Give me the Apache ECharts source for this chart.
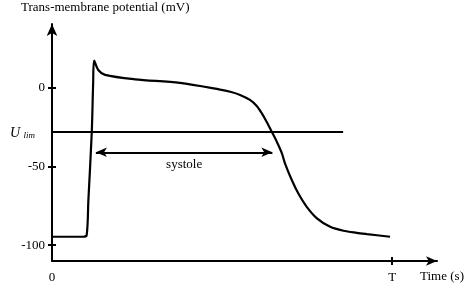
<!DOCTYPE html>
<html>
<head>
<meta charset="utf-8">
<script src="https://cdn.jsdelivr.net/npm/echarts@6/dist/echarts.min.js"></script>
<style>html,body{margin:0;padding:0;background:#fff}#c{width:474px;height:293px}</style>
</head>
<body>
<div id="c"></div>
<script>
// time as fraction of the period T
const timeT = [0, 0.092, 0.102, 0.107, 0.117, 0.121, 0.124, 0.136, 0.156, 0.244, 0.376, 0.494, 0.524, 0.553, 0.582, 0.602, 0.617, 0.631, 0.646, 0.661, 0.676, 0.685, 0.705, 0.724, 0.749, 0.779, 0.818, 0.857, 0.896, 0.926, 0.994];
// trans-membrane potential (mV)
const potential = [-94.6, -94.6, -93.5, -71.3, -27.9, 3.0, 17.1, 11.2, 8.1, 5.3, 3.0, -1.2, -2.6, -4.6, -7.8, -11.6, -16.3, -21.6, -27.9, -34.3, -41.7, -48.0, -58.6, -67.0, -75.6, -82.9, -88.3, -90.8, -92.1, -92.9, -94.6];
const yTicks = [-100, -50, 0];
const xLabels = [0, 1];
const xLabelText = ['0', 'T'];
const uLim = -28;
const uLimEnd = 0.856;
const systoleStart = 0.129, systoleEnd = 0.648, systoleLevel = -41;

const F = 'Liberation Serif';
const curve = timeT.map((t, i) => [t, potential[i]]);
const chart = echarts.init(document.getElementById('c'));
const yMin = -110, yMax = 40.4, xMax = 1.132;
chart.setOption({
  animation: false,
  title: {text: 'Trans-membrane potential (mV)', left: 21, top: 1, padding: 0,
    textStyle: {fontFamily: F, fontSize: 13, fontWeight: 'normal', color: '#000'}},
  grid: {left: 52, top: 24, right: 37, bottom: 32},
  xAxis: [{
    type: 'value', min: 0, max: xMax,
    name: 'Time (s)', nameLocation: 'end', nameGap: 5,
    nameTextStyle: {fontFamily: F, fontSize: 13, color: '#000', align: 'center', verticalAlign: 'top', padding: [9, 0, 0, 0]},
    axisLine: {onZero: false, lineStyle: {color: '#000', width: 2}, symbol: ['none', 'arrow'], symbolSize: [7, 11]},
    axisTick: {show: true, customValues: [1], length: 4, lineStyle: {color: '#000', width: 2}},
    axisLabel: {customValues: xLabels, formatter: v => xLabelText[xLabels.indexOf(v)], margin: 10,
      fontFamily: F, fontSize: 13, color: '#000'},
    splitLine: {show: false}
  }, {
    type: 'value', min: 0, max: xMax, position: 'bottom',
    axisLine: {show: false, onZero: false},
    axisTick: {show: true, inside: true, customValues: [1], length: 4, lineStyle: {color: '#000', width: 2}},
    axisLabel: {show: false}, splitLine: {show: false}
  }],
  yAxis: [{
    type: 'value', min: yMin, max: yMax,
    axisLine: {onZero: false, lineStyle: {color: '#000', width: 2}, symbol: ['none', 'arrow'], symbolSize: [8, 12]},
    axisTick: {show: true, customValues: yTicks, length: 4, lineStyle: {color: '#000', width: 2}},
    axisLabel: {customValues: yTicks, margin: 7, fontFamily: F, fontSize: 13, color: '#000'},
    splitLine: {show: false}
  }, {
    type: 'value', min: yMin, max: yMax, position: 'left',
    axisLine: {show: false, onZero: false},
    axisTick: {show: true, inside: true, customValues: yTicks, length: 4, lineStyle: {color: '#000', width: 2}},
    axisLabel: {show: false}, splitLine: {show: false}
  }],
  graphic: [{
    type: 'text', left: 10, top: 126,
    style: {
      text: '{u|U} {l|lim}',
      rich: {
        u: {fontFamily: F, fontStyle: 'italic', fontSize: 14, fill: '#000', verticalAlign: 'bottom', lineHeight: 14},
        l: {fontFamily: F, fontStyle: 'italic', fontSize: 9, fill: '#000', verticalAlign: 'bottom', lineHeight: 14}
      }
    }
  }],
  series: [{
    type: 'line', data: curve, showSymbol: false, smooth: 0.3,
    lineStyle: {color: '#000', width: 2.2}, silent: true,
    markLine: {
      silent: true, animation: false,
      data: [
        [{coord: [0, uLim], symbol: 'none', label: {show: false}, lineStyle: {color: '#000', width: 1.8, type: 'solid'}},
         {coord: [uLimEnd, uLim], symbol: 'none'}],
        [{coord: [systoleStart, systoleLevel], symbol: 'arrow', symbolSize: [7, 11],
          lineStyle: {color: '#000', width: 1.8, type: 'solid'},
          label: {show: true, formatter: 'systole', position: 'insideMiddleBottom', distance: 6,
            fontFamily: F, fontSize: 13, color: '#000'}},
         {coord: [systoleEnd, systoleLevel], symbol: 'arrow', symbolSize: [7, 11]}]
      ]
    }
  }]
});
</script>
</body>
</html>
